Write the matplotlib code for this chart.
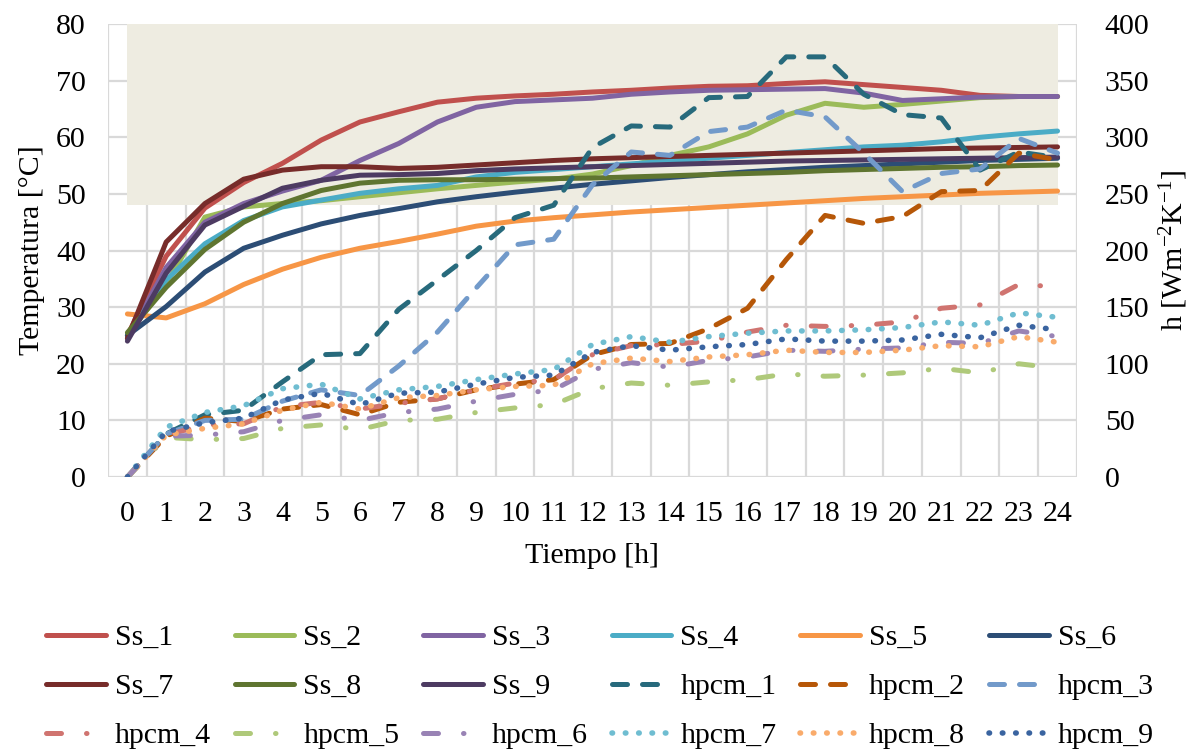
import matplotlib
matplotlib.use("Agg")
import matplotlib.pyplot as plt
from matplotlib.patches import Rectangle
from matplotlib.ticker import MultipleLocator

plt.rcParams['font.family'] = ['Liberation Serif', 'DejaVu Serif']
plt.rcParams['mathtext.fontset'] = 'custom'
plt.rcParams['mathtext.rm'] = 'Liberation Serif'
plt.rcParams['mathtext.default'] = 'regular'

hours = list(range(25))

# surface temperatures [°C]
ss_1 = [25, 39, 47.5, 52, 55.4, 59.5, 62.7, 64.5, 66.2, 66.9, 67.3, 67.6, 68, 68.3, 68.7, 69, 69.1, 69.5, 69.8, 69.3, 68.8, 68.3, 67.4, 67.2, 67.2]
ss_2 = [25, 34, 45.9, 47.7, 48.3, 48.8, 49.5, 50.2, 50.9, 51.5, 52.1, 52.6, 53.5, 55, 56.8, 58.3, 60.6, 63.9, 66, 65.3, 65.8, 66.4, 67, 67.2, 67.2]
ss_3 = [24.5, 37, 45, 48.3, 50.5, 52.4, 55.9, 58.9, 62.7, 65.3, 66.3, 66.6, 66.9, 67.6, 68, 68.3, 68.4, 68.5, 68.6, 67.8, 66.5, 66.8, 67.1, 67.2, 67.2]
ss_4 = [25, 34.8, 41.2, 45.3, 47.7, 48.9, 50.1, 50.9, 51.5, 53, 53.8, 54.3, 54.8, 55.3, 55.8, 56.3, 56.8, 57.3, 57.8, 58.3, 58.6, 59.2, 60, 60.6, 61.1]
ss_5 = [28.8, 28.1, 30.6, 34, 36.7, 38.8, 40.4, 41.6, 42.9, 44.3, 45.2, 45.8, 46.3, 46.8, 47.2, 47.6, 48, 48.4, 48.8, 49.2, 49.5, 49.8, 50.1, 50.3, 50.5]
ss_6 = [25, 30.1, 36.2, 40.4, 42.7, 44.7, 46.2, 47.4, 48.6, 49.5, 50.3, 51, 51.7, 52.3, 52.9, 53.4, 53.9, 54.3, 54.7, 55, 55.3, 55.6, 55.9, 56.1, 56.3]
ss_7 = [24.5, 41.5, 48.3, 52.6, 54.2, 54.8, 54.8, 54.5, 54.7, 55.1, 55.5, 55.9, 56.2, 56.4, 56.6, 56.8, 57, 57.2, 57.4, 57.6, 57.8, 58, 58.1, 58.2, 58.3]
ss_8 = [25.5, 33.5, 40.2, 45, 48.3, 50.6, 51.9, 52.4, 52.5, 52.5, 52.6, 52.7, 52.8, 53, 53.2, 53.4, 53.6, 53.8, 54.1, 54.3, 54.5, 54.7, 54.8, 55, 55.1]
ss_9 = [24, 36, 44.5, 47.8, 51, 52.4, 53.3, 53.4, 53.6, 54.1, 54.4, 54.6, 54.8, 55, 55.2, 55.4, 55.6, 55.8, 55.9, 56, 56.1, 56.2, 56.3, 56.4, 56.5]

# heat transfer coefficients [W m-2 K-1]
hpcm_1 = [0, 38, 55, 59, 84, 108, 109, 148, 174, 200, 229, 240, 291, 310, 309, 335, 336, 371, 371, 338, 320, 317, 271, 287, 282]
hpcm_2 = [0, 36, 52, 49, 60, 64, 55, 66, 69, 77, 82, 86, 108, 117, 118, 131, 149, 192, 231, 224, 230, 252, 253, 286, 280]
hpcm_3 = [0, 38, 50, 51, 67, 77, 72, 98, 128, 167, 205, 210, 258, 287, 284, 305, 309, 324, 318, 286, 252, 268, 272, 299, 286]
hpcm_4 = [0, 37, 46, 47, 62, 66, 60, 65, 69, 77, 83, 86, 108, 116, 117, 120, 128, 134, 133, 134, 137, 149, 152, 170, 168]
hpcm_5 = [0, 35, 33, 34, 43, 46, 42, 50, 51, 57, 61, 64, 78, 83, 81, 84, 86, 91, 89, 90, 92, 96, 92, 100, 96]
hpcm_6 = [0, 36, 37, 40, 50, 55, 50, 57, 60, 67, 73, 77, 95, 101, 97, 103, 106, 112, 111, 113, 114, 119, 118, 129, 124]
hpcm_7 = [0, 44, 57, 63, 78, 82, 69, 77, 80, 86, 91, 95, 117, 124, 119, 124, 127, 129, 129, 130, 132, 137, 134, 145, 141]
hpcm_8 = [0, 37, 43, 47, 59, 66, 60, 70, 72, 77, 80, 81, 100, 105, 102, 106, 108, 112, 110, 110, 112, 116, 115, 124, 119]
hpcm_9 = [0, 40, 48, 52, 68, 74, 64, 74, 75, 82, 88, 90, 110, 116, 112, 115, 117, 122, 120, 120, 121, 126, 123, 134, 130]

ss_series = [("Ss_1", ss_1, "#C0504D"), ("Ss_2", ss_2, "#9BBB59"), ("Ss_3", ss_3, "#8064A2"),
             ("Ss_4", ss_4, "#4BACC6"), ("Ss_5", ss_5, "#F79646"), ("Ss_6", ss_6, "#2C4D75"),
             ("Ss_7", ss_7, "#772C2A"), ("Ss_8", ss_8, "#5F7530"), ("Ss_9", ss_9, "#4D3B62")]
h_series = [("hpcm_1", hpcm_1, "#276A7C"), ("hpcm_2", hpcm_2, "#B65708"), ("hpcm_3", hpcm_3, "#729ACA"),
            ("hpcm_4", hpcm_4, "#D07470"), ("hpcm_5", hpcm_5, "#AFC97A"), ("hpcm_6", hpcm_6, "#9983B5"),
            ("hpcm_7", hpcm_7, "#6FBDD1"), ("hpcm_8", hpcm_8, "#F9AB6B"), ("hpcm_9", hpcm_9, "#3A64A0")]
h_dashes = [(3, 3)] * 3 + [(3, 5, 0.1, 5)] * 3 + [(0.1, 2.3)] * 3
h_widths = [3.6] * 6 + [4.0] * 3

# shaded band behind the temperature curves
band_x = (0, 24)
band_y = (48, 80)

fs = 21.5
grid_c = "#D9D9D9"
lw = 3.6
ncol = 6

fig = plt.figure(figsize=(11.95, 7.53), dpi=100)
ax = fig.add_axes([0.0904, 0.3665, 0.8108, 0.6016])
ax2 = ax.twinx()

ax.set_axisbelow(True)
ax.add_patch(Rectangle((band_x[0], band_y[0]), band_x[1] - band_x[0], band_y[1] - band_y[0],
                       facecolor="#EEECE1", edgecolor="none", zorder=1))

handles = []
for name, vals, col in ss_series:
    ln, = ax.plot(hours, vals, color=col, lw=lw, solid_capstyle="round",
                  solid_joinstyle="round", label=name, zorder=2)
    handles.append(ln)

for (name, vals, col), dash, w in zip(h_series, h_dashes, h_widths):
    ln, = ax2.plot(hours, vals, color=col, lw=w, dashes=dash, dash_capstyle="round",
                   dash_joinstyle="round", label=name)
    handles.append(ln)

ax.set_xlim(-0.5, 24.5)
ax.set_ylim(0, 80)
ax2.set_ylim(0, 400)
ax.set_xticks(hours)
ax.xaxis.set_minor_locator(MultipleLocator(1, offset=0.5))
ax.yaxis.set_major_locator(MultipleLocator(10))
ax2.yaxis.set_major_locator(MultipleLocator(50))

ax.grid(which="minor", axis="x", color=grid_c, lw=1.6)
ax.grid(which="major", axis="y", color=grid_c, lw=1.6)
ax.tick_params(axis="x", which="both", length=0, labelsize=fs, pad=17)
ax.tick_params(axis="y", length=0, labelsize=fs, pad=16)
ax2.tick_params(axis="y", length=0, labelsize=fs, pad=20)
for a in (ax, ax2):
    for s in a.spines.values():
        s.set_visible(False)

ax.set_xlabel("Tiempo [h]", fontsize=fs, labelpad=12)
ax.set_ylabel("Temperatura [°C]", fontsize=fs, labelpad=8)
ax2.set_ylabel("h [Wm$^{-2}$K$^{-1}$]", fontsize=fs, labelpad=6)

# legend reads row by row, matplotlib fills column by column
nrow = len(handles) // ncol
ordered = [handles[r * ncol + c] for c in range(ncol) for r in range(nrow)]
fig.legend(handles=ordered, ncol=ncol, loc="center", bbox_to_anchor=(0.502, 0.088),
           frameon=False, fontsize=fs, handlelength=2.0, handletextpad=0.3,
           columnspacing=0.8, labelspacing=0.74)

fig.savefig("out.png", dpi=100)
